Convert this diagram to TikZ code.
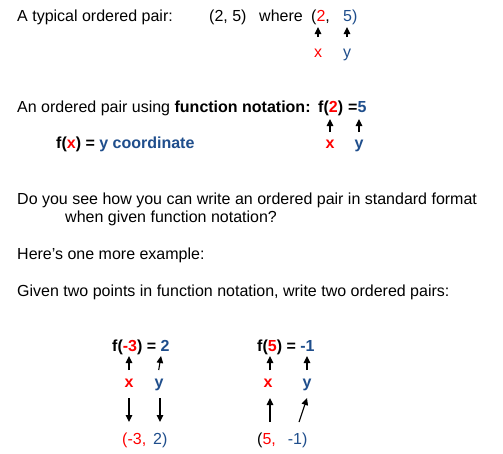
\documentclass[tikz,border=0pt]{standalone}
\usepackage{fontspec}
\setmainfont{Liberation Sans}
\usetikzlibrary{arrows.meta}
\definecolor{xred}{RGB}{255,0,0}
\definecolor{yblue}{RGB}{31,78,140}
\begin{document}
\begin{tikzpicture}[x=1pt,y=-1pt,
  txt/.style={anchor=base west,inner sep=0pt,font=\fontsize{16}{19}\selectfont},
  btxt/.style={txt,font=\fontsize{16}{19}\selectfont\bfseries},
  lbl/.style={anchor=base,inner sep=0pt,font=\fontsize{16}{19}\selectfont},
  blbl/.style={lbl,font=\fontsize{16}{19}\selectfont\bfseries},
  arr/.style={-{Triangle[length=7pt,width=6.5pt]},line width=1.1pt}]
\useasboundingbox[fill=white] (0,0) rectangle (503,453);
% line 1
\node[txt] (t1) at (17,21) {A typical ordered pair:};
\node[txt] (p1) at (209,21) {(2, 5)};
\node[txt] (w1) at (259,21) {where};
\node[txt] (o1) at (311,21) {(\textcolor{xred}{2},};
\node[txt] (o2) at (343,21) {\textcolor{yblue}{5)}};
\node[lbl,text=xred] (xa) at (318,57) {x};
\node[lbl,text=yblue] (ya) at (347,57) {y};
\coordinate (xa1) at (318,37); \coordinate (xa2) at (318,27);
\coordinate (ya1) at (347,37); \coordinate (ya2) at (347,27);
\draw[arr] (xa1) -- (xa2);
\draw[arr] (ya1) -- (ya2);
% line 2
\node[txt] (t2) at (17,112) {An ordered pair using \textbf{function notation:}};
\node[btxt] (f2) at (318,112) {f(\textcolor{xred}{2})};
\node[btxt] (e2) at (348,112) {=\textcolor{yblue}{5}};
\node[blbl,text=xred] (xb) at (330,148) {x};
\node[blbl,text=yblue] (yb) at (359,148) {y};
\coordinate (xb1) at (330,132); \coordinate (xb2) at (330,119);
\coordinate (yb1) at (359,132); \coordinate (yb2) at (359,119);
\draw[arr] (xb1) -- (xb2);
\draw[arr] (yb1) -- (yb2);
\node[btxt] (fx) at (56,148) {f(\textcolor{xred}{x}) = \textcolor{yblue}{y coordinate}};
% text lines
\node[txt] (t3) at (17,204) {Do you see how you can write an ordered pair in standard format};
\node[txt] (t4) at (65,222) {when given function notation?};
\node[txt] (t5) at (17,259) {Here’s one more example:};
\node[txt] (t6) at (17,296) {Given two points in function notation, write two ordered pairs:};
% example 1
\node[btxt] (g1) at (112,351) {f(\textcolor{xred}{-3}) = \textcolor{yblue}{2}};
\node[blbl,text=xred] (xc) at (129,387) {x};
\node[blbl,text=yblue] (yc) at (159,387) {y};
\node[txt] (q1) at (122,444) {\textcolor{xred}{(-3,}\hspace{7pt}\textcolor{yblue}{2)}};
\coordinate (xc1) at (129,370); \coordinate (xc2) at (129,356);
\coordinate (yc1) at (158.7,370); \coordinate (yc2) at (161,356);
\coordinate (xc3) at (129,398); \coordinate (xc4) at (129,422);
\coordinate (yc3) at (160,398); \coordinate (yc4) at (160,422);
\draw[arr] (xc1) -- (xc2);
\draw[arr] (yc1) -- (yc2);
\draw[arr] (xc3) -- (xc4);
\draw[arr] (yc3) -- (yc4);
% example 2
\node[btxt] (g2) at (257,351) {f(\textcolor{xred}{5}) = \textcolor{yblue}{-1}};
\node[blbl,text=xred] (xd) at (268,387) {x};
\node[blbl,text=yblue] (yd) at (307,387) {y};
\node[txt] (q2) at (257,444) {(\textcolor{xred}{5,}\hspace{12pt}\textcolor{yblue}{-1)}};
\coordinate (xd1) at (270,370); \coordinate (xd2) at (270,356);
\coordinate (yd1) at (307,370); \coordinate (yd2) at (307,356);
\coordinate (xd3) at (270,422); \coordinate (xd4) at (270,398);
\coordinate (yd3) at (299,422); \coordinate (yd4) at (307,398);
\draw[arr] (xd1) -- (xd2);
\draw[arr] (yd1) -- (yd2);
\draw[arr] (xd3) -- (xd4);
\draw[arr] (yd3) -- (yd4);
\end{tikzpicture}
\end{document}
